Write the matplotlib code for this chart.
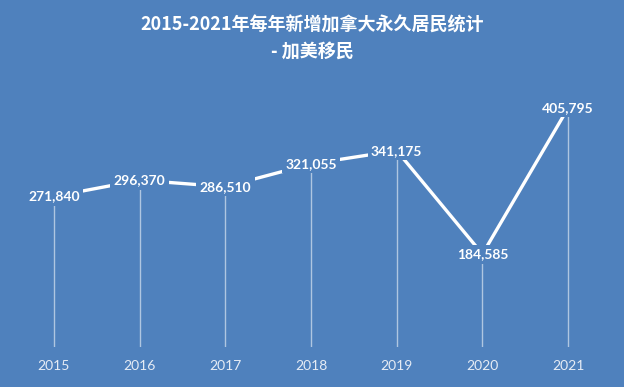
import matplotlib.pyplot as plt

# data
years = ["2015", "2016", "2017", "2018", "2019", "2020", "2021"]
new_pr = [271840, 296370, 286510, 321055, 341175, 184585, 405795]
title_text = "2015-2021年每年新增加拿大永久居民统计\n- 加美移民"

bg = "#4F81BD"

fig = plt.figure(figsize=(6.24, 3.87), dpi=100)
fig.patch.set_facecolor(bg)
ax = fig.add_axes([11 / 624, 40 / 387, 600 / 624, 267 / 387])
ax.set_facecolor(bg)

x = list(range(len(years)))

# drop lines from each point down to the axis
ax.vlines(x, 0, new_pr, colors="white", alpha=0.55, linewidth=1.0, zorder=1)
# main line
ax.plot(x, new_pr, color="white", linewidth=2.4, solid_capstyle="butt", zorder=2)

# value labels centred on points, boxed in bg colour so the line breaks around them
for xi, v in zip(x, new_pr):
    ax.text(xi, v, f"{v:,}", ha="center", va="center", color="white",
            fontsize=10, fontweight="bold", family=["Lato", "DejaVu Sans"],
            bbox=dict(facecolor=bg, edgecolor="none", pad=2.5), zorder=3)

ax.set_xlim(-0.5, len(years) - 0.5)
ax.set_ylim(44000, 448000)
ax.set_xticks(x)
ax.set_xticklabels(years, color="#E6ECF5", fontsize=10, family=["Lato", "DejaVu Sans"])
ax.tick_params(axis="x", length=0, pad=9)
ax.set_yticks([])
for s in ax.spines.values():
    s.set_visible(False)

fig.text(0.5, 1 - 38 / 387, title_text, ha="center", va="center", color="white",
         fontsize=13, fontweight="bold", linespacing=1.5,
         family=["Noto Sans CJK SC", "DejaVu Sans"])

fig.savefig("out.png", dpi=100, facecolor=bg)
